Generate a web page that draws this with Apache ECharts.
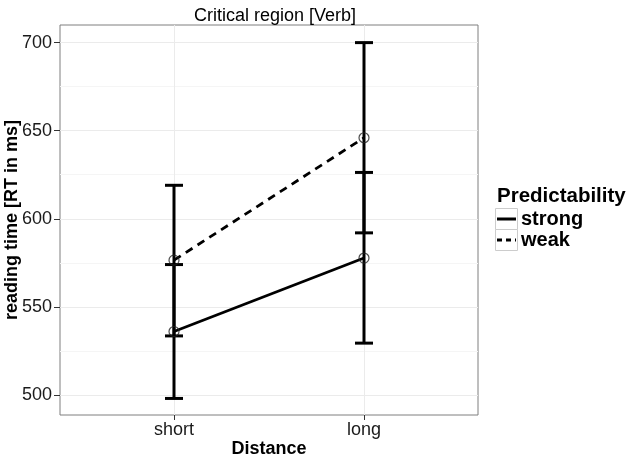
<!DOCTYPE html>
<html>
<head>
<meta charset="utf-8">
<script src="https://cdn.jsdelivr.net/npm/echarts@6/dist/echarts.min.js"></script>
<style>
  html, body { margin: 0; padding: 0; background: #fff; }
  #main { width: 630px; height: 459px; }
</style>
</head>
<body>
<div id="main"></div>
<script>
// categories on the x axis (ggplot positions 1 and 2)
const distances = ["short", "long"];
const yTicks = [500, 550, 600, 650, 700];
const yMinor = [525, 575, 625, 675];

// mean reading times and error bar ends, per predictability level
const strongMean = [536, 577.7];
const strongLow = [498, 529.4];
const strongHigh = [574, 626.3];
const weakMean = [576.5, 646];
const weakLow = [533.5, 592];
const weakHigh = [619, 700];

const font = "Liberation Sans, Arial, sans-serif";

let myChart = echarts.init(document.getElementById("main"));

const xPos = distances.map((d, i) => i + 1);
const pts = (arr) => arr.map((v, i) => [xPos[i], v]);
const bars = (lo, hi) => lo.map((v, i) => [xPos[i], v, hi[i]]);

// 误差棒：竖线 + 上下两个横帽
function renderErrorBar(params, api) {
  const x = api.value(0);
  const lo = api.coord([x, api.value(1)]);
  const hi = api.coord([x, api.value(2)]);
  const half = 9;
  const style = { stroke: "#000", lineWidth: 3 };
  return {
    type: "group",
    children: [
      { type: "line", shape: { x1: lo[0], y1: lo[1], x2: hi[0], y2: hi[1] }, style },
      { type: "line", shape: { x1: lo[0] - half, y1: lo[1], x2: lo[0] + half, y2: lo[1] }, style },
      { type: "line", shape: { x1: hi[0] - half, y1: hi[1], x2: hi[0] + half, y2: hi[1] }, style },
    ],
  };
}

const gLeft = 60, gRight = 478, gTop = 25, gBottom = 415;
const yMin = 488.6, yMax = 710;

let option = {
  animation: false,
  title: {
    text: "Critical region [Verb]",
    left: 270,
    textAlign: "center",
    top: 2,
    textStyle: { fontFamily: font, fontSize: 18, fontWeight: "normal", color: "#000" },
  },
  grid: {
    left: gLeft, top: gTop, width: gRight - gLeft, height: gBottom - gTop,
    outerBoundsMode: "none", containLabel: false,
    show: true, borderColor: "#7f7f7f", borderWidth: 1,
  },
  xAxis: {
    type: "value",
    min: 0.4,
    max: 2.6,
    name: "Distance",
    nameLocation: "middle",
    nameGap: 25,
    nameMoveOverlap: false,
    nameTextStyle: { fontFamily: font, fontSize: 18, fontWeight: "bold", color: "#000" },
    axisLine: { show: false },
    axisTick: { show: true, length: 5, customValues: xPos, lineStyle: { color: "#333" } },
    axisLabel: {
      customValues: xPos,
      formatter: (v) => distances[Math.round(v) - 1],
      fontFamily: font, fontSize: 18, color: "#1a1a1a", margin: 6,
    },
    splitLine: { show: true, lineStyle: { color: "#ebebeb", width: 1 } },
  },
  yAxis: [
    {
      type: "value",
      min: yMin,
      max: yMax,
      name: "reading time [RT in ms]",
      nameLocation: "middle",
      nameGap: 39,
      nameMoveOverlap: false,
      nameTextStyle: { fontFamily: font, fontSize: 18, fontWeight: "bold", color: "#000" },
      axisLine: { show: false },
      axisTick: { show: true, length: 6, customValues: yTicks, lineStyle: { color: "#333" } },
      axisLabel: { customValues: yTicks, fontFamily: font, fontSize: 18, color: "#1a1a1a", margin: 8 },
      splitLine: { show: true, lineStyle: { color: "#ebebeb", width: 1 } },
    },
    {
      type: "value",
      min: yMin,
      max: yMax,
      position: "left",
      axisLine: { show: false },
      axisTick: { show: false, customValues: yMinor },
      axisLabel: { show: false, customValues: yMinor },
      splitLine: { show: true, lineStyle: { color: "#f5f5f5", width: 1 } },
    },
  ],
  series: [
    {
      name: "strong",
      type: "line",
      data: pts(strongMean),
      symbol: "none",
      lineStyle: { color: "#000", width: 2.8, type: "solid" },
      z: 3,
    },
    {
      name: "weak",
      type: "line",
      data: pts(weakMean),
      symbol: "none",
      lineStyle: { color: "#000", width: 2.8, type: [8, 6] },
      z: 3,
    },
    { type: "custom", renderItem: renderErrorBar, data: bars(strongLow, strongHigh), z: 4 },
    { type: "custom", renderItem: renderErrorBar, data: bars(weakLow, weakHigh), z: 4 },
    {
      type: "scatter",
      data: pts(strongMean).concat(pts(weakMean)),
      symbol: "circle",
      symbolSize: 10,
      itemStyle: { color: "rgba(0,0,0,0)", borderColor: "#222", borderWidth: 1.2 },
      z: 5,
    },
  ],
  // 图例：ggplot 风格的方框
  graphic: [
    { type: "text", left: 497, top: 186, style: { text: "Predictability", font: "bold 20.5px " + font, fill: "#000" } },
    { type: "rect", shape: { x: 495.5, y: 208.5, width: 22, height: 21 }, style: { fill: "#fff", stroke: "#ccc", lineWidth: 1 } },
    { type: "rect", shape: { x: 495.5, y: 229.5, width: 22, height: 21 }, style: { fill: "#fff", stroke: "#ccc", lineWidth: 1 } },
    { type: "line", shape: { x1: 497, y1: 219, x2: 516, y2: 219 }, style: { stroke: "#000", lineWidth: 3 } },
    { type: "line", shape: { x1: 497, y1: 240, x2: 516, y2: 240 }, style: { stroke: "#000", lineWidth: 3, lineDash: [5, 4] } },
    { type: "text", left: 521, top: 209, style: { text: "strong", font: "bold 20px " + font, fill: "#000" } },
    { type: "text", left: 521, top: 230, style: { text: "weak", font: "bold 20px " + font, fill: "#000" } },
  ],
};

option && myChart.setOption(option);
</script>
</body>
</html>
